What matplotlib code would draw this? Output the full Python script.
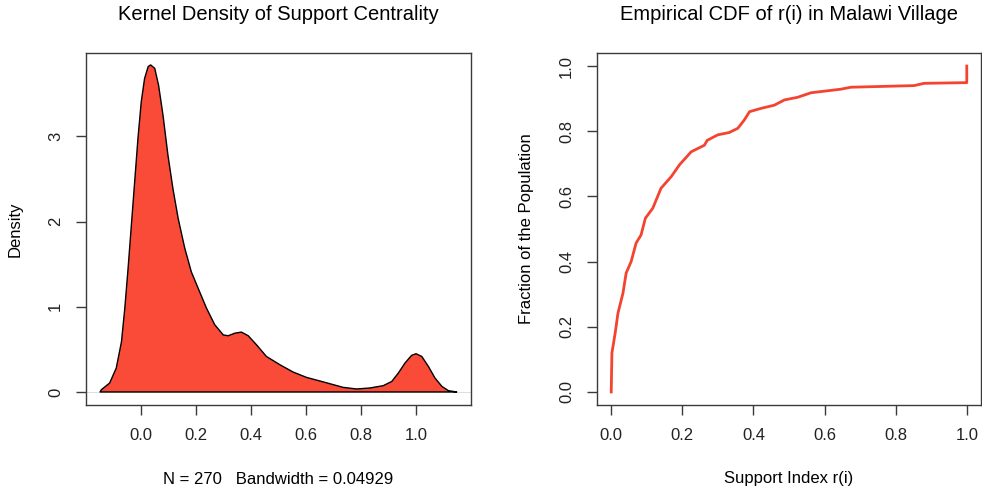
import numpy as np
import matplotlib
matplotlib.use("Agg")
import matplotlib.pyplot as plt

plt.rcParams['font.family'] = ['Liberation Sans', 'DejaVu Sans']

# kernel density of support centrality
dens_x = [-0.149, -0.144, -0.114, -0.090, -0.071, -0.059, -0.047, -0.035, -0.023,
          -0.011, 0.001, 0.013, 0.026, 0.035, 0.050, 0.064, 0.080, 0.098, 0.116,
          0.135, 0.159, 0.183, 0.214, 0.238, 0.268, 0.299, 0.317, 0.341, 0.365,
          0.390, 0.420, 0.456, 0.505, 0.553, 0.602, 0.663, 0.717, 0.735, 0.784,
          0.833, 0.881, 0.912, 0.936, 0.960, 0.984, 1.000, 1.021, 1.045, 1.069,
          1.094, 1.118, 1.148]
dens_y = [0.0, 0.027, 0.105, 0.28, 0.59, 0.98, 1.45, 1.96, 2.47,
          2.98, 3.41, 3.68, 3.82, 3.84, 3.80, 3.60, 3.25, 2.78, 2.39,
          2.04, 1.69, 1.41, 1.17, 0.985, 0.79, 0.67, 0.66, 0.69, 0.703,
          0.66, 0.554, 0.417, 0.32, 0.234, 0.171, 0.118, 0.070, 0.054, 0.035,
          0.047, 0.074, 0.124, 0.223, 0.34, 0.43, 0.449, 0.417, 0.30, 0.164,
          0.066, 0.015, 0.0]

# empirical CDF of r(i)
ecdf_x = [0.0, 0.002, 0.011, 0.019, 0.033, 0.042, 0.056, 0.070, 0.084, 0.096,
          0.117, 0.140, 0.169, 0.192, 0.225, 0.262, 0.270, 0.300, 0.332, 0.356,
          0.374, 0.389, 0.421, 0.459, 0.487, 0.524, 0.562, 0.646, 0.674, 0.852,
          0.880, 0.997, 1.0, 1.0]
ecdf_y = [0.0, 0.12, 0.18, 0.242, 0.303, 0.365, 0.40, 0.457, 0.482, 0.533,
          0.564, 0.625, 0.661, 0.697, 0.737, 0.757, 0.772, 0.789, 0.796, 0.809,
          0.834, 0.860, 0.870, 0.880, 0.896, 0.904, 0.918, 0.929, 0.935, 0.94,
          0.947, 0.949, 0.949, 1.0]

x_ticks = [0.0, 0.2, 0.4, 0.6, 0.8, 1.0]
dens_ticks = [0, 1, 2, 3]
ecdf_ticks = [0.0, 0.2, 0.4, 0.6, 0.8, 1.0]

W, H = 982, 495
fig = plt.figure(figsize=(W / 100, H / 100), dpi=100)
ax1 = fig.add_axes([86 / W, (H - 405) / H, 385 / W, 352 / H])
ax2 = fig.add_axes([597 / W, (H - 405) / H, 384 / W, 352 / H])

box_col = '#3a3a3a'
fs = 12
tfs = 14.5


def r_style(ax):
    for s in ax.spines.values():
        s.set_color(box_col)
        s.set_linewidth(1.0)
    ax.tick_params(length=7.5, width=1.0, color=box_col, pad=9,
                   labelsize=fs, labelcolor='#222222')
    for lab in ax.get_yticklabels():
        lab.set_rotation(90)
        lab.set_va('center')


# left: density
ax1.axhline(0, color='#d8d8d8', lw=0.6, zorder=1)
ax1.fill(dens_x, dens_y, facecolor='#fa4b38', edgecolor='black', lw=1.0,
         joinstyle='round', zorder=2)
ax1.set_xlim(-0.2, 1.2)
ax1.set_ylim(-0.153, 3.98)
ax1.set_xticks(x_ticks)
ax1.set_xticklabels(['%.1f' % v for v in x_ticks])
ax1.set_yticks(dens_ticks)
ax1.set_yticklabels([str(v) for v in dens_ticks])
r_style(ax1)
ax1.set_title('Kernel Density of Support Centrality', fontsize=tfs, pad=24)
ax1.set_xlabel('N = 270   Bandwidth = 0.04929', fontsize=fs, va='center')
ax1.xaxis.set_label_coords(0.5, -74 / 352)
ax1.set_ylabel('Density', fontsize=fs, va='center')
ax1.yaxis.set_label_coords(-71 / 385, 0.5)

# right: ecdf
ax2.plot(ecdf_x, ecdf_y, color='#f4432f', lw=2.0, solid_joinstyle='round')
ax2.set_xlim(-0.04, 1.04)
ax2.set_ylim(-0.04, 1.04)
ax2.set_xticks(x_ticks)
ax2.set_xticklabels(['%.1f' % v for v in x_ticks])
ax2.set_yticks(ecdf_ticks)
ax2.set_yticklabels(['%.1f' % v for v in ecdf_ticks])
r_style(ax2)
ax2.set_title('Empirical CDF of r(i) in Malawi Village', fontsize=tfs, pad=24)
ax2.set_xlabel('Support Index r(i)', fontsize=fs, va='center')
ax2.xaxis.set_label_coords(0.5, -74 / 352)
ax2.set_ylabel('Fraction of the Population', fontsize=fs, va='center')
ax2.yaxis.set_label_coords(-71 / 384, 0.5)

fig.savefig('out.png', dpi=100)
